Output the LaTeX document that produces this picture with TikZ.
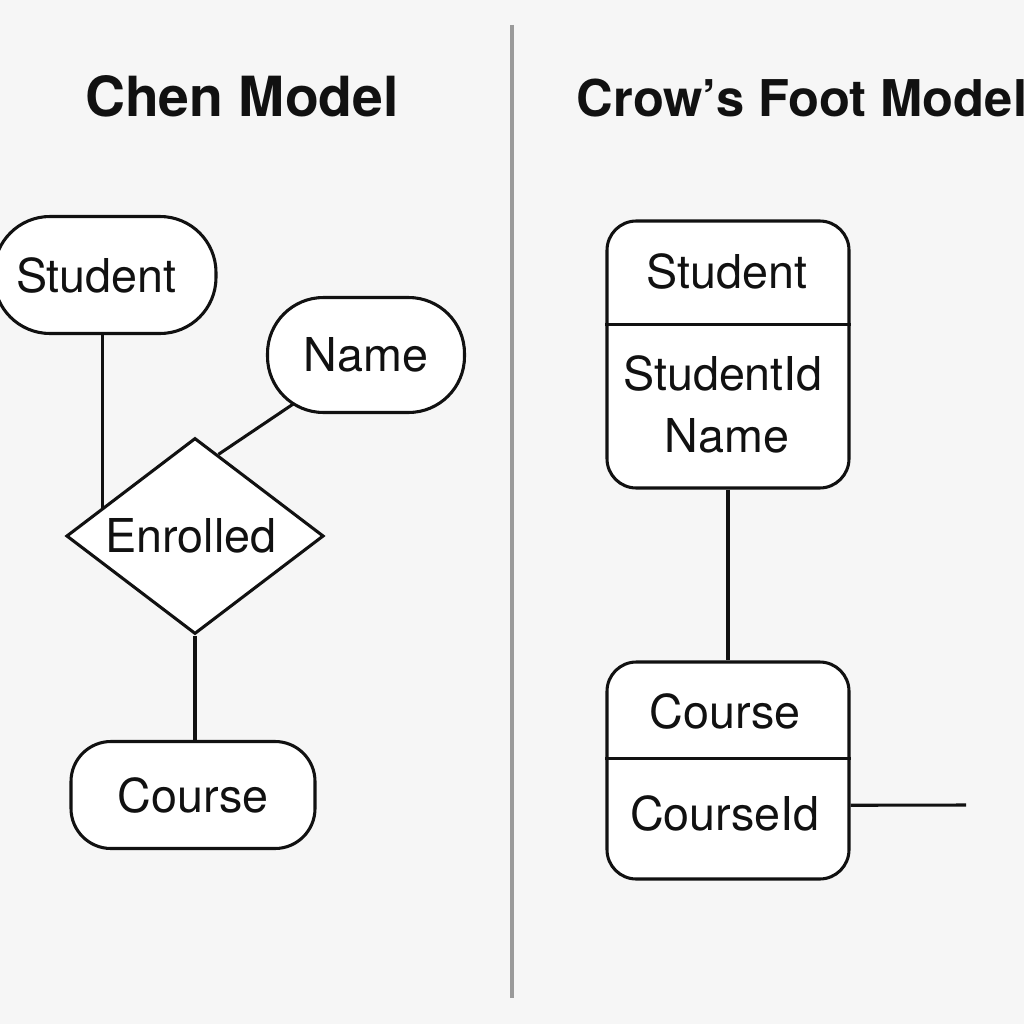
\documentclass[tikz,border=0pt]{standalone}
\usepackage{fontspec}
\setmainfont{TeX Gyre Heros}
\usetikzlibrary{shapes.geometric,calc}
\definecolor{bg}{HTML}{F6F6F6}
\definecolor{ink}{HTML}{111111}
\definecolor{rulegray}{HTML}{9A9A9A}
\pgfdeclarelayer{paper}
\pgfdeclarelayer{back}
\pgfsetlayers{paper,back,main}
\begin{document}
\begin{tikzpicture}[x=0.75pt,y=-0.75pt,
  txt/.style={font=\fontsize{35pt}{42pt}\selectfont,text=ink},
  ttl/.style={font=\fontsize{40pt}{46pt}\selectfont\bfseries,text=ink,anchor=base west},
  shapeline/.style={draw=ink,line width=2.3pt,fill=white},
  stadium/.style={txt,shapeline,inner sep=0pt,rounded corners=42pt},
  roundbox/.style={txt,shapeline,inner sep=0pt,rounded corners=30pt},
  relation/.style={txt,shapeline,shape=diamond,aspect=1.31,inner sep=0pt},
  tablebox/.style={shapeline,inner sep=0pt,rounded corners=22pt},
  cell/.style={txt,anchor=base,inner sep=0pt},
  link/.style={draw=ink,line width=2.3pt}]
\begin{pgfonlayer}{paper}
\fill[bg] (0,0) rectangle (1024,1024);
\end{pgfonlayer}
\useasboundingbox (0,0) rectangle (1024,1024);

% divider
\coordinate (dtop) at (512,25);
\coordinate (dbot) at (512,998);
\draw[rulegray,line width=2.4pt] (dtop) -- (dbot);

% titles
\node[ttl,anchor=base,font=\fontsize{41.5pt}{46pt}\selectfont\bfseries] (t1) at (242,116) {Chen Model};
\node[ttl,font=\fontsize{38pt}{46pt}\selectfont\bfseries] (t2) at (572,116) {Crow’s Foot Model};

% Chen model
\node[stadium,minimum width=166.5pt,minimum height=87.75pt] (stu) at (105,275) {Student\hspace*{13pt}};
\node[stadium,minimum width=147.75pt,minimum height=86.25pt] (nam) at (366,355) {Name};
\node[relation,minimum width=193pt,minimum height=147pt] (enr) at (195,536) {Enrolled\hspace*{6pt}};
\node[roundbox,minimum width=183pt,minimum height=80.25pt] (crs) at (193,795) {Course};

\begin{pgfonlayer}{back}
\draw[link] ([xshift=-2pt]stu.south) -- ([xshift=-2pt]stu.south |- enr.center);
\draw[link] (nam.center) -- ($(enr.north)!0.18!(enr.east)$);
\end{pgfonlayer}
\draw[link] (enr.south) -- (enr.south |- crs.north);

% Crow's foot model
\node[tablebox,minimum width=181.5pt,minimum height=200.25pt] (sbox) at (728,354.5) {};
\draw[link] ($(sbox.north west)!0.39!(sbox.south west)$) -- ($(sbox.north east)!0.39!(sbox.south east)$);
\node[cell] (sname) at (727,288) {Student};
\node[cell] (sid) at (723,390) {StudentId};
\node[cell] (snm) at (727,452) {Name};

\node[tablebox,minimum width=181.5pt,minimum height=162.75pt] (cbox) at (728,770.5) {};
\draw[link] ($(cbox.north west)!0.447!(cbox.south west)$) -- ($(cbox.north east)!0.447!(cbox.south east)$);
\node[cell] (cname) at (725,728) {Course};
\node[cell] (cid) at (725,830) {CourseId};

\draw[link] (sbox.south) -- (cbox.north);
\coordinate (cend) at (966,805);
\draw[link] ($(cbox.north east)!0.658!(cbox.south east)$) -- (cend);
\end{tikzpicture}
\end{document}
